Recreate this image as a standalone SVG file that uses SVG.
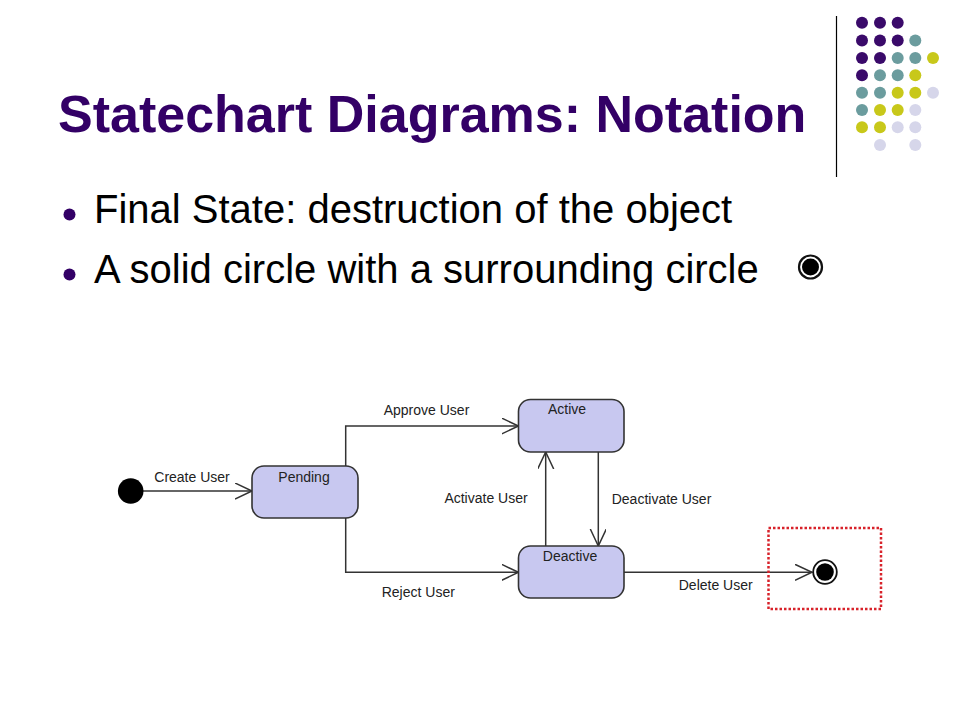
<svg xmlns="http://www.w3.org/2000/svg" width="960" height="720" viewBox="0 0 960 720">
<defs>
<style>
.title{font-family:"Liberation Sans",Arial,sans-serif;font-weight:bold;font-size:52px;fill:#330066}
.bullet{font-family:"Liberation Sans",Arial,sans-serif;font-size:40px;fill:#000}
.lbl{font-family:"Liberation Sans",Arial,sans-serif;font-size:14px;fill:#222}
.state{fill:#c8c8f0;stroke:#333;stroke-width:1.6}
.conn{fill:none;stroke:#333;stroke-width:1.5}
.pu{fill:#3a0a6a}.te{fill:#6b9c9e}.ye{fill:#c8c81a}.la{fill:#d6d6ea}
</style>
<marker id="arr" markerWidth="20" markerHeight="20" refX="17" refY="8" orient="auto" markerUnits="userSpaceOnUse">
<path d="M0,0 L17,8 L0,16" fill="none" stroke="#333" stroke-width="1.5"/>
</marker>
</defs>
<rect width="960" height="720" fill="#fff"/>
<g id="decor">
<line x1="836.5" y1="16" x2="836.5" y2="177" stroke="#000" stroke-width="1.2"/>
<circle class="pu" cx="862" cy="22.7" r="6"/><circle class="pu" cx="880" cy="22.7" r="6"/><circle class="pu" cx="897.7" cy="22.7" r="6"/>
<circle class="pu" cx="862" cy="40.5" r="6"/><circle class="pu" cx="880" cy="40.5" r="6"/><circle class="pu" cx="897.7" cy="40.5" r="6"/><circle class="te" cx="915.3" cy="40.5" r="6"/>
<circle class="pu" cx="862" cy="58" r="6"/><circle class="pu" cx="880" cy="58" r="6"/><circle class="te" cx="897.7" cy="58" r="6"/><circle class="te" cx="915.3" cy="58" r="6"/><circle class="ye" cx="933" cy="58" r="6"/>
<circle class="pu" cx="862" cy="75.3" r="6"/><circle class="te" cx="880" cy="75.3" r="6"/><circle class="te" cx="897.7" cy="75.3" r="6"/><circle class="ye" cx="915.3" cy="75.3" r="6"/>
<circle class="te" cx="862" cy="92.7" r="6"/><circle class="te" cx="880" cy="92.7" r="6"/><circle class="ye" cx="897.7" cy="92.7" r="6"/><circle class="ye" cx="915.3" cy="92.7" r="6"/><circle class="la" cx="933" cy="92.7" r="6"/>
<circle class="te" cx="862" cy="110" r="6"/><circle class="ye" cx="880" cy="110" r="6"/><circle class="ye" cx="897.7" cy="110" r="6"/><circle class="la" cx="915.3" cy="110" r="6"/>
<circle class="ye" cx="862" cy="127.3" r="6"/><circle class="ye" cx="880" cy="127.3" r="6"/><circle class="la" cx="897.7" cy="127.3" r="6"/><circle class="la" cx="915.3" cy="127.3" r="6"/>
<circle class="la" cx="880" cy="145" r="6"/><circle class="la" cx="915.3" cy="145" r="6"/>
</g>
<g id="heading">
<text class="title" x="58" y="132">Statechart Diagrams: Notation</text>
<circle cx="69.5" cy="214.5" r="6" fill="#330066"/>
<text class="bullet" x="94" y="223">Final State: destruction of the object</text>
<circle cx="69.5" cy="274.5" r="6" fill="#330066"/>
<text class="bullet" x="94" y="283">A solid circle with a surrounding circle</text>
<circle cx="810.5" cy="267" r="11.5" fill="#fff" stroke="#111" stroke-width="2.2"/>
<circle cx="810.5" cy="267" r="8.5" fill="#000"/>
</g>
<g id="connectors">
<line class="conn" x1="143" y1="491" x2="252" y2="491" marker-end="url(#arr)"/>
<polyline class="conn" points="345.7,466 345.7,426 518.5,426" marker-end="url(#arr)"/>
<polyline class="conn" points="345.7,518 345.7,572.3 518.5,572.3" marker-end="url(#arr)"/>
<line class="conn" x1="545.7" y1="546" x2="545.7" y2="452" marker-end="url(#arr)"/>
<line class="conn" x1="598.3" y1="452" x2="598.3" y2="546" marker-end="url(#arr)"/>
<line class="conn" x1="624" y1="572.3" x2="812" y2="572.3" marker-end="url(#arr)"/>
<text class="lbl" x="192" y="482" text-anchor="middle">Create User</text>
<text class="lbl" x="426.5" y="414.5" text-anchor="middle">Approve User</text>
<text class="lbl" x="418.3" y="597" text-anchor="middle">Reject User</text>
<text class="lbl" x="486" y="503" text-anchor="middle">Activate User</text>
<text class="lbl" x="661.5" y="504" text-anchor="middle">Deactivate User</text>
<text class="lbl" x="715.7" y="590" text-anchor="middle">Delete User</text>
</g>
<g id="initial">
<circle cx="130.7" cy="491" r="12.8" fill="#000"/>
</g>
<g id="pending">
<rect class="state" x="252" y="466" width="106" height="52" rx="12"/>
<text class="lbl" x="304" y="482" text-anchor="middle">Pending</text>
</g>
<g id="active">
<rect class="state" x="518.5" y="399.5" width="105.5" height="52.5" rx="12"/>
<text class="lbl" x="567" y="414" text-anchor="middle">Active</text>
</g>
<g id="deactive">
<rect class="state" x="518.5" y="546" width="105.5" height="52" rx="12"/>
<text class="lbl" x="570" y="561" text-anchor="middle">Deactive</text>
</g>
<g id="final">
<circle cx="825" cy="572" r="11.8" fill="#fff" stroke="#111" stroke-width="1.8"/>
<circle cx="825" cy="572" r="8.8" fill="#000"/>
</g>
<g id="highlight">
<rect x="768.5" y="528" width="112.5" height="81" fill="none" stroke="#d8222a" stroke-width="2.5" stroke-dasharray="2.5,2"/>
</g>
</svg>
